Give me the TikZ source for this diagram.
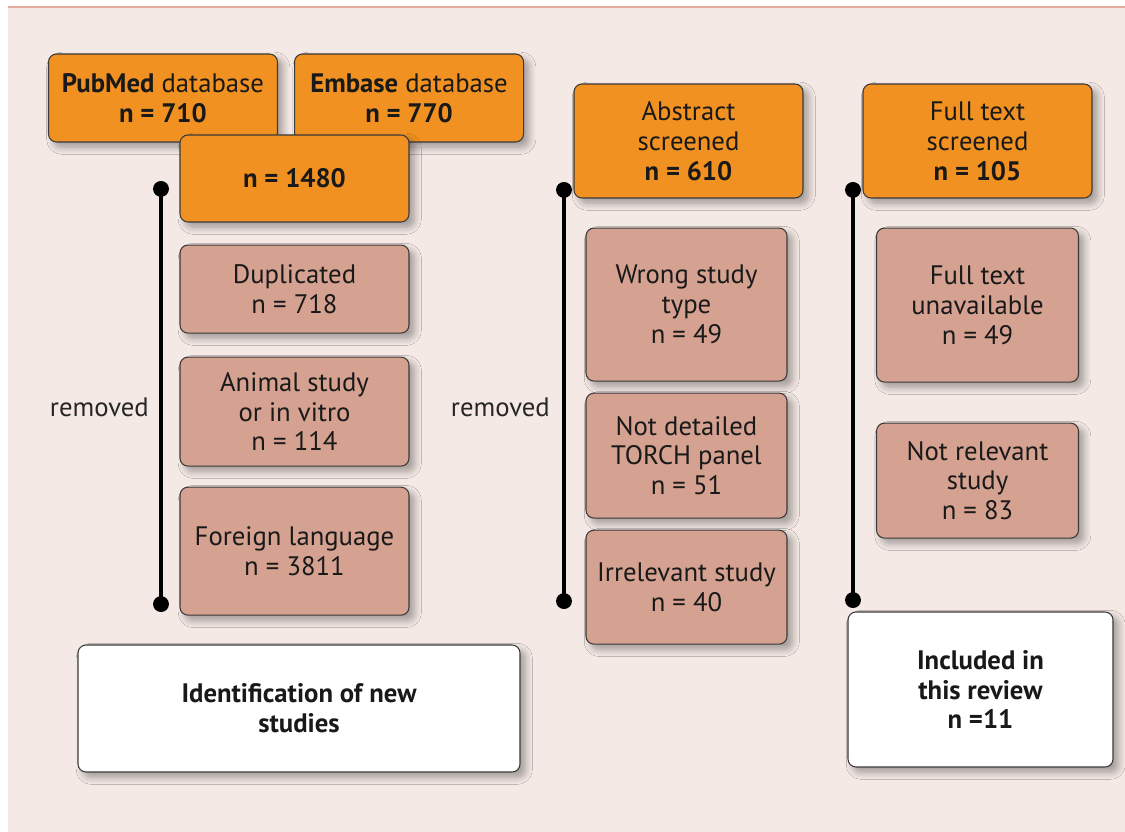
\documentclass[tikz,border=0pt]{standalone}
\usepackage{fontspec}
\setmainfont{PT Sans}
\usepackage{xcolor}
\definecolor{bgpink}{HTML}{F4E9E5}
\definecolor{rimpink}{HTML}{E3A99A}
\definecolor{orangebox}{HTML}{F19121}
\definecolor{salmonbox}{HTML}{D5A190}
\definecolor{edgegray}{HTML}{3A3A3A}
\usetikzlibrary{positioning,calc,arrows.meta,shadows.blur}

\begin{document}
\begin{tikzpicture}[
    font=\fontsize{15.2}{17}\selectfont,
    node distance=0.4cm,
    block/.style={rectangle, rounded corners=0.16cm, draw=edgegray, line width=0.6pt, align=center, inner sep=2pt, text=black!90,
        blur shadow={shadow xshift=3pt, shadow yshift=-3pt, shadow blur radius=4pt, shadow blur steps=8, shadow opacity=35}},
    srcbox/.style={block, fill=orangebox, minimum width=4.58cm},
    outbox/.style={block, fill=salmonbox},
    endbox/.style={block, fill=white, font=\fontsize{15.2}{17}\selectfont\bfseries},
    bar/.style={line width=2.3pt, {Circle[length=9pt]}-{Circle[length=9pt]}},
    lbl/.style={anchor=east, text=black!85}
]
    \useasboundingbox (0,0) rectangle (22.5,-16.64);
    \fill[bgpink] (0.16,-0.14) rectangle (22.5,-16.64);
    \draw[rimpink, line width=0.8pt] (0.16,-0.14) -- (22.5,-0.14);

    % identification
    \node[srcbox, minimum height=1.76cm] (pub) at (3.26,-1.96) {\textbf{PubMed} database\\\textbf{n = 710}};
    \node[srcbox, minimum height=1.76cm, right=0.32cm of pub] (emb) {\textbf{Embase} database\\\textbf{n = 770}};
    \node[srcbox, minimum height=1.74cm] (tot) at (5.89,-3.57) {\textbf{n = 1480}};
    \node[outbox, minimum width=4.58cm, minimum height=1.76cm, below=0.44cm of tot] (dup) {Duplicated\\n = 718};
    \node[outbox, minimum width=4.58cm, minimum height=2.18cm, below=0.46cm of dup] (ani) {Animal study\\or in vitro\\n = 114};
    \node[outbox, minimum width=4.58cm, minimum height=2.56cm, below=0.4cm of ani] (lang) {Foreign language\\n = 3811};
    \node[endbox, minimum width=8.84cm, minimum height=2.54cm] (ident) at (5.98,-14.17) {Identification of new\\studies};

    % abstract screening
    \node[srcbox, minimum height=2.28cm] (abs) at (13.77,-2.82) {Abstract\\screened\\\textbf{n = 610}};
    \node[outbox, minimum width=4.02cm, minimum height=3.06cm, below=0.58cm of abs, xshift=-0.04cm] (wrong) {Wrong study\\type\\n = 49};
    \node[outbox, minimum width=4.02cm, minimum height=2.5cm, below=0.22cm of wrong] (torch) {Not detailed\\TORCH panel\\n = 51};
    \node[outbox, minimum width=4.02cm, minimum height=2.28cm, below=0.22cm of torch] (irr) {Irrelevant study\\n = 40};

    % full text screening
    \node[srcbox, minimum height=2.28cm] (full) at (19.55,-2.82) {Full text\\screened\\\textbf{n = 105}};
    \node[outbox, minimum width=4.04cm, minimum height=3.08cm, below=0.58cm of full] (unav) {Full text\\unavailable\\n = 49};
    \node[outbox, minimum width=4.04cm, minimum height=2.3cm, below=0.8cm of unav] (notrel) {Not relevant\\study\\n = 83};
    \node[endbox, minimum width=5.3cm, minimum height=3.1cm] (incl) at (19.61,-13.79) {Included in\\this review\\n =11};

    \coordinate (top1) at (3.22,-3.62);
    \coordinate (bot1) at (3.22,-12.24);
    \coordinate (top2) at (11.28,-3.64);
    \coordinate (bot2) at (11.28,-12.18);
    \coordinate (top3) at (17.06,-3.64);
    \coordinate (bot3) at (17.06,-12.16);
    \draw[bar] (top1) -- (bot1);
    \draw[bar] (top2) -- (bot2);
    \draw[bar] (top3) -- (bot3);

    \node[lbl] (rem1) at (3.1,-8.14) {removed};
    \node[lbl] (rem2) at (11.12,-8.14) {removed};
\end{tikzpicture}
\end{document}
